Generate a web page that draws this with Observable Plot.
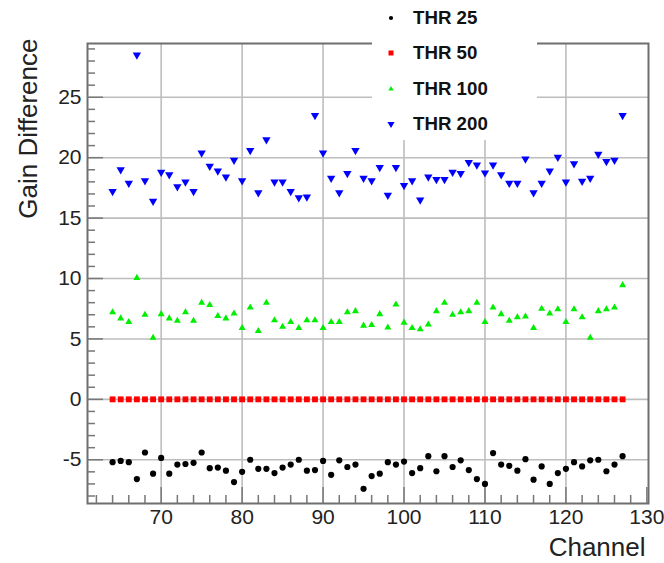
<!DOCTYPE html>
<html>
<head>
<meta charset="utf-8">
<script src="https://cdn.jsdelivr.net/npm/d3@7"></script>
<script src="https://cdn.jsdelivr.net/npm/@observablehq/plot@0.6"></script>
<style>
  html, body { margin: 0; padding: 0; background: #fff; }
  #wrap { position: relative; width: 664px; height: 563px; overflow: hidden; background: #fff; }
  #legend { position: absolute; left: 372px; top: 0; width: 165px; height: 140px; background: #fff;
            font-family: "Liberation Sans", Arial, Helvetica, sans-serif; font-weight: bold; font-size: 18.7px; color: #111; }
  #legend .sym { position: absolute; left: 11px; width: 16px; height: 16px; }
  #legend .lab { position: absolute; left: 41px; line-height: 22px; white-space: nowrap; }
</style>
</head>
<body>
<div id="wrap"><div id="legend"></div></div>
<script>
// ---- data ----
const channels = [
   64, 65, 66, 67, 68, 69, 70, 71,
   72, 73, 74, 75, 76, 77, 78, 79,
   80, 81, 82, 83, 84, 85, 86, 87,
   88, 89, 90, 91, 92, 93, 94, 95,
   96, 97, 98, 99,100,101,102,103,
  104,105,106,107,108,109,110,111,
  112,113,114,115,116,117,118,119,
  120,121,122,123,124,125,126,127
];
const thr25 = [
  -5.2, -5.1, -5.2, -6.6, -4.4, -6.15, -4.85, -6.15,
  -5.4, -5.35, -5.25, -4.4, -5.7, -5.65, -5.9, -6.85,
  -6.0, -5.0, -5.75, -5.75, -6.1, -5.65, -5.4, -5.0,
  -5.9, -5.85, -5.1, -6.25, -5.05, -5.6, -5.4, -7.4,
  -6.35, -6.15, -5.2, -5.4, -5.15, -6.1, -5.7, -4.7,
  -5.95, -4.7, -5.6, -5.05, -5.85, -6.6, -7.0, -4.45,
  -5.4, -5.5, -5.9, -4.95, -6.65, -5.55, -7.0, -6.1,
  -5.75, -5.2, -5.55, -5.05, -5.0, -5.95, -5.4, -4.7
];
const thr50 = [
  0, 0, 0, 0, 0, 0, 0, 0,
  0, 0, 0, 0, 0, 0, 0, 0,
  0, 0, 0, 0, 0, 0, 0, 0,
  0, 0, 0, 0, 0, 0, 0, 0,
  0, 0, 0, 0, 0, 0, 0, 0,
  0, 0, 0, 0, 0, 0, 0, 0,
  0, 0, 0, 0, 0, 0, 0, 0,
  0, 0, 0, 0, 0, 0, 0, 0
];
const thr100 = [
  7.2, 6.7, 6.4, 10.05, 7.0, 5.1, 7.05, 6.7,
  6.5, 7.2, 6.5, 8.0, 7.8, 6.9, 6.7, 7.1,
  5.9, 7.6, 5.65, 8.0, 6.55, 6.0, 6.4, 5.9,
  6.55, 6.55, 5.9, 6.4, 6.4, 7.2, 7.3, 6.1,
  6.15, 7.05, 5.95, 7.85, 6.35, 5.9, 5.8, 6.2,
  7.3, 8.0, 7.0, 7.2, 7.3, 8.0, 6.4, 7.6,
  7.05, 6.5, 6.8, 6.85, 5.9, 7.5, 7.1, 7.45,
  6.4, 7.45, 6.8, 5.1, 7.3, 7.45, 7.6, 9.45
];
const thr200 = [
  17.2, 19.0, 17.9, 28.5, 18.1, 16.4, 18.8, 18.6,
  17.6, 18.0, 17.2, 20.4, 19.3, 18.9, 18.4, 19.8,
  18.1, 20.6, 17.1, 21.5, 18.0, 18.0, 17.2, 16.7,
  16.75, 23.5, 20.4, 18.3, 17.1, 18.7, 20.6, 18.3,
  18.1, 19.2, 16.9, 19.2, 17.7, 18.1, 16.5, 18.4,
  18.2, 18.2, 18.8, 18.7, 19.6, 19.4, 18.75, 19.4,
  18.6, 17.9, 17.9, 19.9, 17.1, 17.9, 18.9, 20.05,
  18.0, 19.5, 18.05, 18.3, 20.3, 19.7, 19.8, 23.5
];
const seriesNames = ["THR 25", "THR 50", "THR 100", "THR 200"];
const xDomain = [60.9, 130.2];
const yDomain = [-8.62, 29.45];
const xMajorTicks = [70, 80, 90, 100, 110, 120, 130];
const xGridTicks = [70, 80, 90, 100, 110, 120];
const xMinorTicks = [62, 64, 66, 68, 72, 74, 76, 78, 82, 84, 86, 88, 92, 94, 96, 98,
                     102, 104, 106, 108, 112, 114, 116, 118, 122, 124, 126, 128];
const yMajorTicks = [-5, 0, 5, 10, 15, 20, 25];
const yMinorTicks = [-8, -7, -6, -4, -3, -2, -1, 1, 2, 3, 4, 6, 7, 8, 9, 11, 12, 13, 14,
                     16, 17, 18, 19, 21, 22, 23, 24, 26, 27, 28, 29];
const xTitle = "Channel";
const yTitle = "Gain Difference";

// ---- tables built from the arrays ----
const toRows = (vals) => channels.map((c, i) => ({channel: c, value: vals[i]}));
const d25 = toRows(thr25), d50 = toRows(thr50), d100 = toRows(thr100), d200 = toRows(thr200);

const FONT = '"Liberation Sans", Arial, Helvetica, sans-serif';
const gridStyle = {stroke: "#bdbdbd", strokeOpacity: 1, strokeWidth: 1.6};
const plainFormat = d => String(d);   // ASCII hyphen for negatives, as in the reference

const plot = Plot.plot({
  width: 664, height: 563,
  marginLeft: 87, marginRight: 16, marginTop: 43, marginBottom: 60,
  style: {fontFamily: FONT, background: "#fff", color: "#222"},
  x: {domain: xDomain, label: null},
  y: {domain: yDomain, label: null},
  marks: [
    Plot.gridX(xGridTicks, gridStyle),
    Plot.gridY(yMajorTicks, gridStyle),
    Plot.dot(d25, {x: "channel", y: "value", symbol: "circle", r: 3.1, fill: "#000", stroke: "none"}),
    Plot.dot(d50, {x: "channel", y: "value", symbol: "square", r: 3.3, fill: "#ff0000", stroke: "none"}),
    Plot.dot(d100, {x: "channel", y: "value", symbol: "triangle", r: 2.6, fill: "#00ee00", stroke: "none"}),
    Plot.dot(d200, {x: "channel", y: "value", symbol: "triangle", rotate: 180, r: 3.1, fill: "#0000ff", stroke: "none"}),
    Plot.frame({stroke: "#6e6e6e", strokeWidth: 2}),
    // inward ticks (ROOT style)
    Plot.axisY(yMajorTicks, {tickSize: 16, dx: 16, fill: "none", label: null, stroke: "#777", strokeWidth: 1.5}),
    Plot.axisY(yMinorTicks, {tickSize: 8, dx: 8, fill: "none", label: null, stroke: "#777", strokeWidth: 1.5}),
    Plot.axisX(xMajorTicks, {tickSize: 16, dy: -16, fill: "none", label: null, stroke: "#777", strokeWidth: 1.5}),
    Plot.axisX(xMinorTicks, {tickSize: 8, dy: -8, fill: "none", label: null, stroke: "#777", strokeWidth: 1.5}),
    // tick labels
    Plot.axisY(yMajorTicks, {tickSize: 0, tickPadding: 6, fontSize: 21, label: null, fill: "#222", tickFormat: plainFormat}),
    Plot.axisX(xMajorTicks, {tickSize: 0, tickPadding: 6, fontSize: 21, label: null, fill: "#222", tickFormat: plainFormat}),
    // axis titles
    Plot.text([xTitle], {text: d => d, frameAnchor: "bottom-right", textAnchor: "end", lineAnchor: "middle",
                         dx: -3, dy: 44, fontSize: 26, fill: "#222"}),
    Plot.text([yTitle], {text: d => d, frameAnchor: "top-left", textAnchor: "end", lineAnchor: "middle",
                         rotate: -90, dx: -59, dy: -5, fontSize: 26, fill: "#222"})
  ]
});
document.getElementById("wrap").insertBefore(plot, document.getElementById("legend"));

// ---- legend (HTML overlay, like the ROOT TLegend box) ----
const legendSyms = [
  {type: d3.symbolCircle, size: 14, fill: "#000", rot: 0},
  {type: d3.symbolSquare, size: 25, fill: "#ff0000", rot: 0},
  {type: d3.symbolTriangle, size: 12, fill: "#00ee00", rot: 0},
  {type: d3.symbolTriangle, size: 22, fill: "#0000ff", rot: 180}
];
const rowCenters = [17.5, 53, 88.5, 124];
const legend = document.getElementById("legend");
seriesNames.forEach((name, i) => {
  const s = legendSyms[i];
  const cy = rowCenters[i];
  const svg = d3.create("svg").attr("class", "sym").attr("width", 16).attr("height", 16)
    .attr("viewBox", "-8 -8 16 16").style("top", (cy - 8) + "px");
  svg.append("path").attr("d", d3.symbol(s.type, s.size)()).attr("fill", s.fill)
    .attr("transform", `rotate(${s.rot})`);
  legend.appendChild(svg.node());
  const lab = document.createElement("div");
  lab.className = "lab";
  lab.style.top = (cy - 11) + "px";
  lab.textContent = name;
  legend.appendChild(lab);
});
</script>
</body>
</html>
